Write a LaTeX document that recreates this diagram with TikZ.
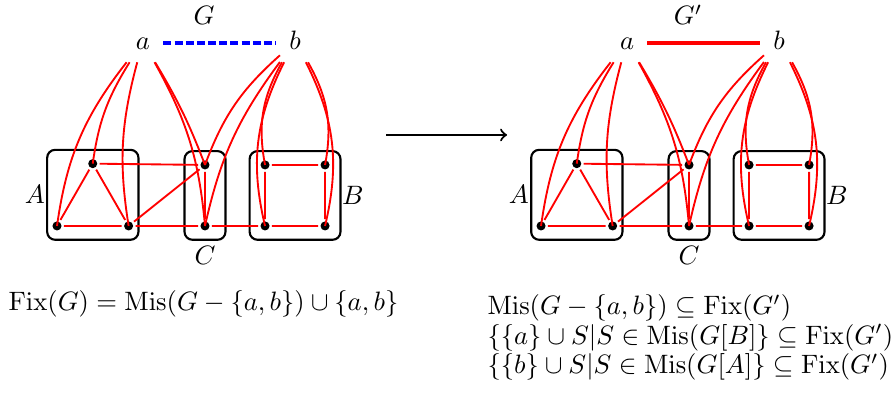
\documentclass[tikz,border=0pt]{standalone}
\usepackage{xcolor}
\usepackage{tikz}
\usetikzlibrary{positioning,fit}
\tikzset{
  node-vtx/.style={circle,fill=black,inner sep=0pt,minimum size=3.4pt,outer sep=0.9pt},
  node-end/.style={text height=1.5ex,text depth=.25ex},
  node-group/.style={draw,thick,rounded corners=3pt,inner ysep=2.6pt},
  node-tag/.style={inner sep=0pt},
  node-line/.style={anchor=base west,inner sep=0pt},
  edge-red/.style={red,line width=0.7pt},
  edge-missing/.style={blue,line width=1.4pt,dash pattern=on 3pt off 1.2pt,
    shorten >=1.5pt,shorten <=1.5pt},
  edge-added/.style={red,line width=1.4pt,shorten >=1.5pt,shorten <=1.5pt},
  arrow/.style={->,thick},
  % one copy of the graph, used for G and for G'
  fixgraph/.pic={
    \node[node-vtx] (-A1) at (0,0) {};
    \node[node-vtx] (-A2) at (0.946,0) {};
    \node[node-vtx] (-A3) at (0.472,0.823) {};
    \node[node-vtx] (-C1) at (1.955,0.806) {};
    \node[node-vtx] (-C2) at (1.955,0) {};
    \node[node-vtx] (-B1) at (2.748,0.806) {};
    \node[node-vtx] (-B2) at (3.541,0.806) {};
    \node[node-vtx] (-B3) at (2.748,0) {};
    \node[node-vtx] (-B4) at (3.541,0) {};
    \node[node-end] (-a) at (1.136,2.419) {$a$};
    \node[node-end] (-b) at (3.144,2.419) {$b$};
    \node[node-group,inner xsep=1.1pt,fit=(-A1)(-A2)(-A3)] (-boxA) {};
    \node[node-group,inner xsep=5.1pt,fit=(-C1)(-C2)] (-boxC) {};
    \node[node-group,inner xsep=3.2pt,fit=(-B1)(-B2)(-B3)(-B4)] (-boxB) {};
    \node[node-tag,left=0.3pt of -boxA] (-tagA) {$A$};
    \node[node-tag,right=0pt of -boxB] (-tagB) {$B$};
    \node[node-tag,below=1.8pt of -boxC] (-tagC) {$C$};
    \draw[edge-red] (-A1) -- (-A2) (-A1) -- (-A3) (-A2) -- (-A3)
      (-A3) -- (-C1) (-A2) -- (-C1) (-A2) -- (-C2) (-C1) -- (-C2)
      (-C2) -- (-B3) (-B1) -- (-B2) (-B1) -- (-B3) (-B3) -- (-B4)
      (-B2) -- (-B4);
    \draw[edge-red] (-a) to[bend right=15] (-A1);
    \draw[edge-red] (-a) to[bend right=12] (-A3);
    \draw[edge-red] (-a) to[bend right=12] (-A2);
    \draw[edge-red] (-a) to[bend left=5] (-C1);
    \draw[edge-red] (-a) to[bend left=12] (-C2);
    \draw[edge-red] (-b) to[bend right=14] (-C1);
    \draw[edge-red] (-b) to[bend right=12] (-C2);
    \draw[edge-red] (-b) to[bend right=20] (-B1);
    \draw[edge-red] (-b) to[bend right=20] (-B3);
    \draw[edge-red] (-b) to[bend left=20] (-B2);
    \draw[edge-red] (-b) to[bend left=20] (-B4);
  },
}

\begin{document}
\begin{tikzpicture}
  \useasboundingbox (-0.753,-2.219) rectangle (11.017,2.985);
  \pic (L) at (0,0) {fixgraph};
  \pic (R) at (6.394,0) {fixgraph};
  \node (G) at (1.942,2.787) {$G$};
  \node (Gp) at (8.336,2.787) {$G'$};
  \draw[edge-missing] (L-a) -- (L-b);
  \draw[edge-added] (R-a) -- (R-b);
  \coordinate (arrS) at (4.346,1.202);
  \coordinate (arrE) at (5.945,1.202);
  \draw[arrow] (arrS) -- (arrE);
  \node[anchor=base] (fixG) at (1.935,-1.123)
    {$\mathrm{Fix}(G)=\mathrm{Mis}(G-\{a,b\})\cup\{a,b\}$};
  \node[node-line] (fixGp1) at (5.680,-1.176)
    {$\mathrm{Mis}(G-\{a,b\})\subseteq\mathrm{Fix}(G')$};
  \node[node-line] (fixGp2) at (5.680,-1.566)
    {$\{\{a\}\cup S|S\in\mathrm{Mis}(G[B]\}\subseteq\mathrm{Fix}(G')$};
  \node[node-line] (fixGp3) at (5.680,-1.955)
    {$\{\{b\}\cup S|S\in\mathrm{Mis}(G[A]\}\subseteq\mathrm{Fix}(G')$};
\end{tikzpicture}
\end{document}
